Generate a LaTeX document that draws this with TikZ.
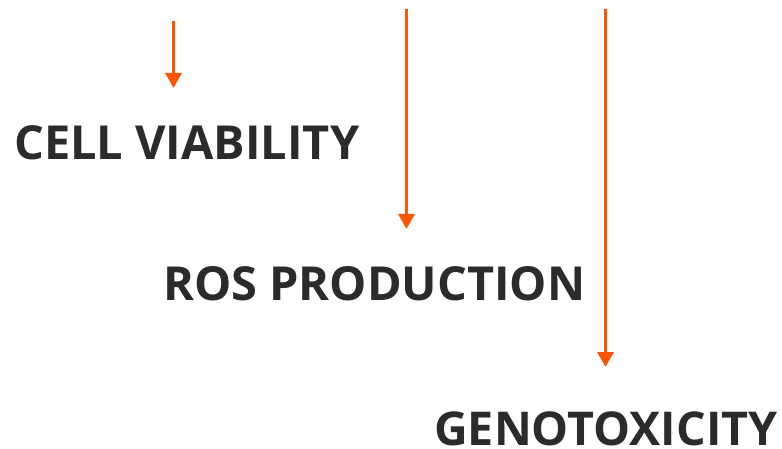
\documentclass[tikz,border=0pt]{standalone}
\usepackage{fontspec}
\setmainfont{Open Sans}
\usetikzlibrary{arrows.meta}
\definecolor{arroworange}{RGB}{255,85,0}
\definecolor{labelgray}{RGB}{43,43,43}
\tikzset{
  label text/.style={anchor=base west, inner sep=0pt, text=labelgray, font=\fontsize{46.9}{56}\selectfont\bfseries},
  orange arrow/.style={draw=arroworange, line width=3pt, -{Triangle[width=16pt,length=15pt]}}
}
\begin{document}
\begin{tikzpicture}[x=1pt,y=-1pt]
\useasboundingbox (0,0) rectangle (782,449);
\node[label text] (cell) at (14,160) {CELL VIABILITY};
\node[label text] (ros) at (163,301) {ROS PRODUCTION};
\node[label text, font=\fontsize{46.6}{56}\selectfont\bfseries] (geno) at (434,445) {GENOTOXICITY};
\coordinate (a1s) at (173.5,21);
\coordinate (a1e) at (173.5,88);
\coordinate (a2s) at (406.5,9);
\coordinate (a2e) at (406.5,229);
\coordinate (a3s) at (605.5,9);
\coordinate (a3e) at (605.5,367);
\draw[orange arrow] (a1s) -- (a1e);
\draw[orange arrow] (a2s) -- (a2e);
\draw[orange arrow] (a3s) -- (a3e);
\end{tikzpicture}
\end{document}
